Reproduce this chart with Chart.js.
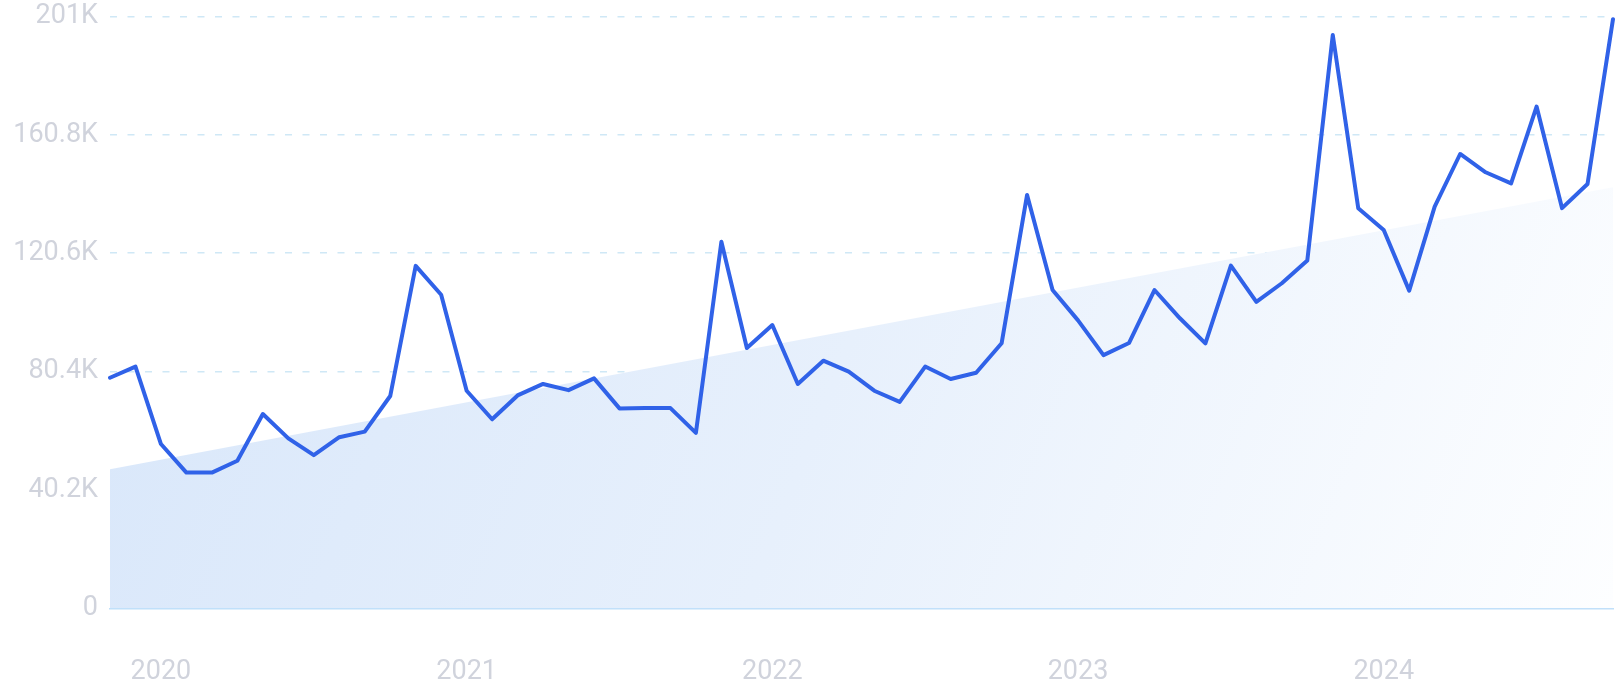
<!DOCTYPE html>
<html>
<head>
<meta charset="utf-8">
<script src="https://cdn.jsdelivr.net/npm/chart.js@4.4.1/dist/chart.umd.min.js"></script>
<style>
  html, body { margin: 0; padding: 0; background: #ffffff; }
  #wrap { width: 1618px; height: 700px; }
</style>
</head>
<body>
<div id="wrap"><canvas id="c" width="1618" height="700"></canvas></div>
<script>
// ---- data ----
const months = [
  '2019-11','2019-12',
  '2020-01','2020-02','2020-03','2020-04','2020-05','2020-06','2020-07','2020-08','2020-09','2020-10','2020-11','2020-12',
  '2021-01','2021-02','2021-03','2021-04','2021-05','2021-06','2021-07','2021-08','2021-09','2021-10','2021-11','2021-12',
  '2022-01','2022-02','2022-03','2022-04','2022-05','2022-06','2022-07','2022-08','2022-09','2022-10','2022-11','2022-12',
  '2023-01','2023-02','2023-03','2023-04','2023-05','2023-06','2023-07','2023-08','2023-09','2023-10','2023-11','2023-12',
  '2024-01','2024-02','2024-03','2024-04','2024-05','2024-06','2024-07','2024-08','2024-09','2024-10'
];
const searchVolume = [
  78300, 82100,
  55800, 46100, 46100, 50100, 66000, 57700, 52000, 58100, 60000, 72100, 116300, 106500,
  73900, 64200, 72300, 76200, 74100, 78100, 67900, 68000, 68000, 59600, 124500, 88400,
  96200, 76200, 84100, 80400, 73900, 70100, 82100, 77900, 80000, 90000, 140400, 108100,
  97800, 86000, 90100, 108100, 98500, 90000, 116400, 104100, 110400, 118100, 194700, 135900,
  128500, 107900, 136400, 154300, 148100, 144300, 170400, 135900, 144100, 200100
];
const trendStart = { x: '2019-11', y: 47200 };
const trendEnd   = { x: '2024-10', y: 143000 };
const yTickValues = [0, 40200, 80400, 120600, 160800, 201000];
const yTickLabels = ['0', '40.2K', '80.4K', '120.6K', '160.8K', '201K'];
const yearLabels = { '2020-01': '2020', '2021-01': '2021', '2022-01': '2022', '2023-01': '2023', '2024-01': '2024' };

// ---- chart ----
const FONT = 'Roboto, "Liberation Sans", sans-serif';

function areaGradient(context) {
  const chart = context.chart;
  const area = chart.chartArea;
  if (!area) return 'rgba(220,234,250,1)';
  const g = chart.ctx.createLinearGradient(area.left, area.top, area.right, area.bottom);
  g.addColorStop(0, 'rgb(215,230,250)');
  g.addColorStop(0.5, 'rgb(231,240,252)');
  g.addColorStop(1, 'rgb(253,254,255)');
  return g;
}

new Chart(document.getElementById('c'), {
  type: 'line',
  data: {
    labels: months,
    datasets: [
      {
        label: 'Search volume',
        data: searchVolume,
        borderColor: 'rgb(48,98,232)',
        borderWidth: 4,
        pointRadius: 0,
        pointHoverRadius: 0,
        tension: 0,
        fill: false,
        borderJoinStyle: 'round',
        borderCapStyle: 'round',
        order: 1
      },
      {
        label: 'Trend',
        data: [trendStart, trendEnd],
        borderWidth: 0,
        borderColor: 'rgba(0,0,0,0)',
        backgroundColor: areaGradient,
        pointRadius: 0,
        fill: 'origin',
        tension: 0,
        order: 2
      }
    ]
  },
  options: {
    responsive: false,
    animation: false,
    devicePixelRatio: 1,
    layout: { padding: { top: 16.5, right: 5, left: 0, bottom: 0 } },
    plugins: { legend: { display: false }, tooltip: { enabled: false } },
    scales: {
      x: {
        type: 'category',
        offset: false,
        grid: { display: false, drawTicks: false },
        border: { display: true, color: 'rgb(192,224,250)', width: 1.5 },
        ticks: {
          autoSkip: false,
          maxRotation: 0,
          minRotation: 0,
          padding: 48,
          color: 'rgb(208,211,220)',
          font: { family: FONT, size: 27 },
          callback: function (value, index) {
            const m = months[index];
            return yearLabels[m] !== undefined ? yearLabels[m] : null;
          }
        },
        afterFit: function (scale) { scale.height = 91.7; }
      },
      y: {
        min: 0,
        max: 201000,
        grid: {
          drawTicks: false,
          lineWidth: 1.5,
          color: function (ctx) {
            return ctx.tick && ctx.tick.value === 0 ? 'rgba(0,0,0,0)' : 'rgb(207,232,246)';
          }
        },
        border: { display: false, dash: [7, 10.5] },
        ticks: {
          padding: 12,
          color: 'rgb(208,211,220)',
          font: { family: FONT, size: 27 },
          callback: function (value) {
            const i = yTickValues.indexOf(value);
            return i >= 0 ? yTickLabels[i] : '';
          }
        },
        afterBuildTicks: function (scale) {
          scale.ticks = yTickValues.map(v => ({ value: v }));
        },
        afterFit: function (scale) {
          scale.width = 110;
          scale.paddingTop = 0;
          scale.paddingBottom = 0;
        }
      }
    }
  }
});
</script>
</body>
</html>
